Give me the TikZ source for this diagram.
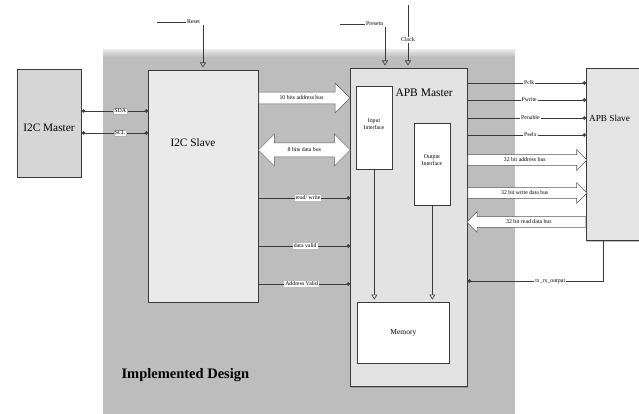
\documentclass[tikz,border=0pt]{standalone}
\usepackage{fontspec}
\setmainfont{Liberation Serif}
\usetikzlibrary{arrows.meta,shapes.arrows,shadows,calc}
\definecolor{regiongray}{HTML}{BDBDBD}
\definecolor{apbmfill}{HTML}{E3E3E3}
\definecolor{i2csfill}{HTML}{EAEAEA}
\definecolor{i2cmfill}{HTML}{D6D6D6}
\definecolor{apbsfill}{HTML}{E4E4E4}
\definecolor{linec}{HTML}{3A3A3A}
\newcommand\tinyfnt{\fontsize{5.8}{6.4}\selectfont}
\begin{document}
\begin{tikzpicture}[x=1pt,y=-1pt,
  box/.style={draw=linec, line width=0.7pt, anchor=north west, inner sep=0pt},
  sig/.style={draw=linec, line width=0.6pt},
  lab/.style={font=\tinyfnt, fill=white, inner sep=1pt},
  dotline/.style={sig, {Circle[length=3.5pt]}-{Circle[length=3.5pt]}},
  dotend/.style={sig, -{Circle[length=3.5pt]}},
  ctl/.style={sig, -{Triangle[open,length=5pt,width=6pt]}, shorten >=2.5pt},
  harrow/.style={single arrow, draw=gray!70!black, fill=white, line width=0.5pt, font=\tinyfnt, text height=4.2pt, text depth=1.3pt, inner xsep=2pt, anchor=tail},
  darrow/.style={double arrow, draw=gray!70!black, fill=white, line width=0.5pt, font=\tinyfnt, text height=4.2pt, text depth=1.3pt, inner xsep=2pt},
  bigtext/.style={font=\fontsize{11.3}{13}\selectfont}
]
\useasboundingbox (0,0) rectangle (639,414);
\fill[white] (0,0) rectangle (639,414);
% implemented design region
\fill[regiongray] (103,56) rectangle (515,414);
\shade[top color=gray!20, bottom color=regiongray] (103,50) rectangle (515,57);

% level coordinates
\coordinate (ySDA) at (0,111);
\coordinate (ySCL) at (0,133);
\coordinate (yA10) at (0,98);
\coordinate (yD8) at (0,150);
\coordinate (yRW) at (0,198);
\coordinate (yDV) at (0,246);
\coordinate (yAV) at (0,284);
\coordinate (yPclk) at (0,83);
\coordinate (yPwr) at (0,100);
\coordinate (yPen) at (0,118);
\coordinate (yPsel) at (0,135);
\coordinate (yA32) at (0,160);
\coordinate (yW32) at (0,193);
\coordinate (yR32) at (0,222);

% blocks
\node[box, fill=i2cmfill, minimum width=64pt, minimum height=108pt] (i2cm) at (17,69) {};
\node[bigtext] (i2cmt) at (49,128) {I2C Master};

\node[box, fill=i2csfill, minimum width=110pt, minimum height=232pt] (i2cs) at (148,70) {};
\node[bigtext] (i2cst) at (193,143) {I2C Slave};

\node[box, fill=apbmfill, minimum width=117pt, minimum height=318pt,
      drop shadow={shadow xshift=1pt, shadow yshift=-1.5pt, opacity=0.6}] (apbm) at (350,68) {};
\node[font=\fontsize{11.5}{13}\selectfont, anchor=west] (apbmt) at (392,93) {APB Master};

\node[box, fill=white, minimum width=36pt, minimum height=83pt] (inif) at (356,86) {};
\node[font=\tinyfnt, align=center] (inift) at (374,124) {Input\\Interface};

\node[box, fill=white, minimum width=36pt, minimum height=82pt] (outif) at (414,123) {};
\node[font=\tinyfnt, align=center] (outift) at (432,160) {Output\\Interface};

\node[box, fill=white, minimum width=92pt, minimum height=61pt] (mem) at (357,302) {};
\node[font=\fontsize{7.5}{9}\selectfont] (memt) at (mem.center) {Memory};

\node[box, fill=apbsfill, minimum width=80pt, minimum height=172pt,
      drop shadow={shadow xshift=1pt, shadow yshift=-2pt, opacity=0.5}] (apbs) at (586,68) {};
\node[font=\fontsize{9.2}{11}\selectfont, anchor=west, inner sep=1pt] (apbst) at (588,118) {APB Slave};

\node[font=\bfseries\fontsize{14.5}{16}\selectfont, anchor=west] (impl) at (118,375) {Implemented Design};

% control inputs
\coordinate (rstL) at (157,22);
\node[font=\tinyfnt, anchor=west, inner sep=1pt] (rst) at (186,22) {Reset};
\coordinate (rstX) at (203,0);
\draw[sig] (rstL) -- (rst.west);
\draw[ctl] (rst.south -| rstX) -- (i2cs.north -| rstX);

\coordinate (prsL) at (340,24);
\node[font=\tinyfnt, anchor=west, inner sep=1pt] (prs) at (365,24) {Presetn};
\coordinate (prsX) at (385,0);
\draw[sig] (prsL) -- (prs.west);
\draw[ctl] (prs.south -| prsX) -- (apbm.north -| prsX);

\coordinate (clkT) at (408,5);
\node[font=\tinyfnt, inner sep=1pt] (clk) at (408,40) {Clock};
\draw[sig] (clkT) -- (clk.north);
\draw[ctl] (clk.south) -- (apbm.north -| clk.south);

% I2C bus
\draw[dotline] (i2cm.east |- ySDA) -- (i2cs.west |- ySDA) node[lab, draw=gray!60, pos=0.58] {SDA};
\draw[dotline] (i2cm.east |- ySCL) -- (i2cs.west |- ySCL) node[lab, draw=gray!60, pos=0.58] {SCL};

% I2C slave to APB master
\node[harrow, inner ysep=2.8pt, single arrow head extend=9pt, minimum height=91pt] (a10) at (i2cs.east |- yA10) {10 bits address bus};
\node[darrow, inner ysep=4pt, double arrow head extend=9pt, minimum height=92pt] (d8) at ($(i2cs.east |- yD8)!0.5!(apbm.west |- yD8)$) {8 bits data bus};
\draw[dotend] (i2cs.east |- yRW) -- (apbm.west |- yRW) node[lab, pos=0.54] {read/ write};
\draw[dotend] (i2cs.east |- yDV) -- (apbm.west |- yDV) node[lab, pos=0.51] {data valid};
\draw[dotend] (i2cs.east |- yAV) -- (apbm.west |- yAV) node[lab, pos=0.47] {Address Valid};

% inside APB master
\draw[ctl] (inif.south) -- (inif.south |- mem.north);
\draw[ctl] (outif.south) -- (outif.south |- mem.north);

% APB master to APB slave
\draw[dotend] (apbm.east |- yPclk) -- (apbs.west |- yPclk) node[lab, pos=0.52] {Pclk};
\draw[dotend] (apbm.east |- yPwr) -- (apbs.west |- yPwr) node[lab, pos=0.52] {Pwrite};
\draw[dotend] (apbm.east |- yPen) -- (apbs.west |- yPen) node[lab, pos=0.53] {Penable};
\draw[dotend] (apbm.east |- yPsel) -- (apbs.west |- yPsel) node[lab, pos=0.53] {Pselx};
\node[harrow, inner ysep=2.3pt, single arrow head extend=5pt, minimum height=119pt] (a32) at (apbm.east |- yA32) {32 bit address bus};
\node[harrow, inner ysep=2.3pt, single arrow head extend=5pt, minimum height=119pt] (w32) at (apbm.east |- yW32) {32 bit write data bus};
\node[harrow, inner ysep=2.3pt, single arrow head extend=5pt, minimum height=119pt, shape border rotate=180] (r32) at (apbs.west |- yR32) {32 bit read data bus};

% tx_rx_output
\coordinate (txC) at (603,281);
\draw[dotend] (apbs.south -| txC) -- (txC) -- (apbm.east |- txC) node[lab, pos=0.39] {tx\_rx\_output};
\end{tikzpicture}
\end{document}
